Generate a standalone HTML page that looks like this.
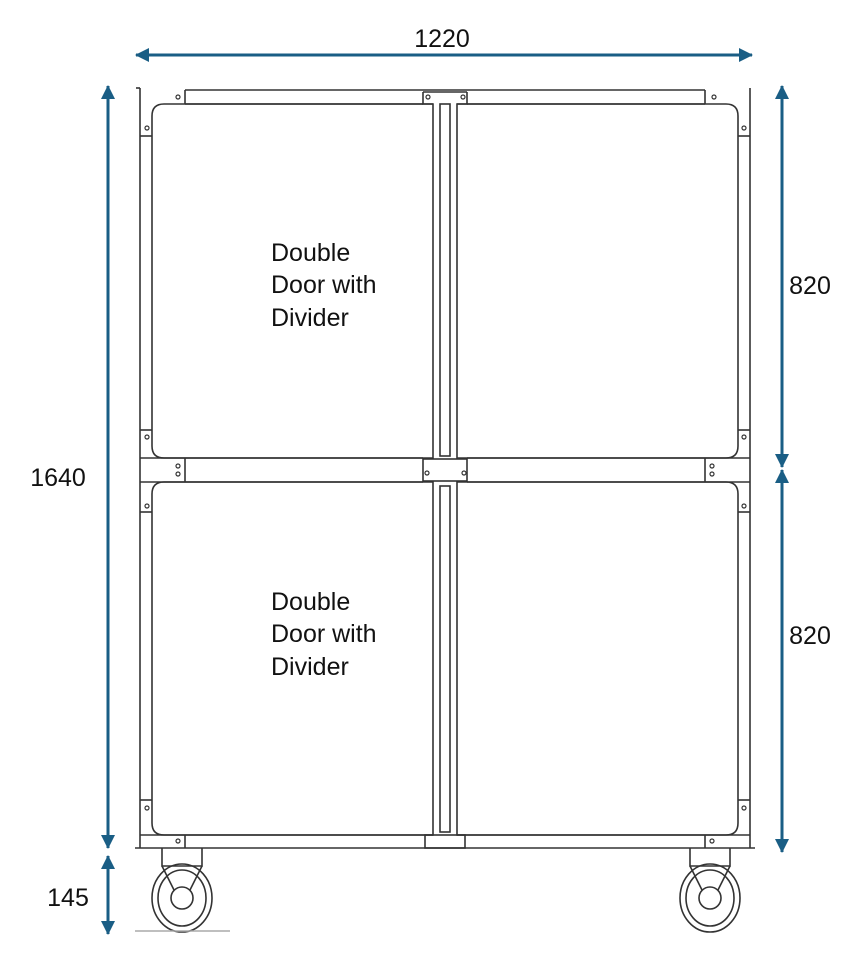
<!DOCTYPE html>
<html><head><meta charset="utf-8"><style>
html,body{margin:0;padding:0;background:#fff;}
svg{display:block;}
text{font-family:"Liberation Sans",sans-serif;fill:#111;}
</style></head><body>
<svg width="862" height="960" viewBox="0 0 862 960" xmlns="http://www.w3.org/2000/svg">
<defs>
<marker id="ah" markerWidth="14" markerHeight="14" refX="13" refY="7" orient="auto-start-reverse" markerUnits="userSpaceOnUse" viewBox="0 0 14 14">
<path d="M0,0 L14,7 L0,14 z" fill="#1a5e85"/>
</marker>
</defs>
<g fill="none" stroke="#333" stroke-width="1.6">
<line x1="140" y1="88" x2="140" y2="848"/>
<line x1="750" y1="88" x2="750" y2="848"/>
<line x1="136" y1="88" x2="140" y2="88"/>
<line x1="185" y1="90" x2="705" y2="90"/>
<line x1="185" y1="90" x2="185" y2="104"/>
<line x1="705" y1="90" x2="705" y2="104"/>
<line x1="185" y1="104" x2="423" y2="104"/>
<line x1="467" y1="104" x2="705" y2="104"/>
<line x1="140" y1="136" x2="152" y2="136"/>
<line x1="738" y1="136" x2="750" y2="136"/>
<line x1="140" y1="430" x2="152" y2="430"/>
<line x1="738" y1="430" x2="750" y2="430"/>
<line x1="140" y1="512" x2="152" y2="512"/>
<line x1="738" y1="512" x2="750" y2="512"/>
<line x1="140" y1="800" x2="152" y2="800"/>
<line x1="738" y1="800" x2="750" y2="800"/>
<path d="M152,116 Q152,104 164,104 L433,104 L433,458 L164,458 Q152,458 152,446 Z"/>
<path d="M457,104 L726,104 Q738,104 738,116 L738,446 Q738,458 726,458 L457,458 Z"/>
<path d="M152,494 Q152,482 164,482 L433,482 L433,835 L164,835 Q152,835 152,823 Z"/>
<path d="M457,482 L726,482 Q738,482 738,494 L738,823 Q738,835 726,835 L457,835 Z"/>
<line x1="140" y1="458" x2="423" y2="458"/>
<line x1="467" y1="458" x2="750" y2="458"/>
<line x1="140" y1="482" x2="423" y2="482"/>
<line x1="467" y1="482" x2="750" y2="482"/>
<line x1="185" y1="458" x2="185" y2="482"/>
<line x1="705" y1="458" x2="705" y2="482"/>
<rect x="423" y="459" width="44" height="22"/>
<rect x="440" y="104" width="10" height="352"/>
<rect x="440" y="486" width="10" height="346"/>
<path d="M423,92 L423,104 L433,104 M467,92 L467,104 L457,104"/>
<line x1="423" y1="92" x2="467" y2="92"/>
<rect x="425" y="835" width="40" height="13"/>
<line x1="135" y1="848" x2="755" y2="848"/>
<line x1="185" y1="835" x2="185" y2="848"/>
<line x1="705" y1="835" x2="705" y2="848"/>
<line x1="140" y1="835" x2="433" y2="835"/>
<line x1="457" y1="835" x2="750" y2="835"/>
<g>
<path d="M162,848 L162,866 L202,866 L202,848"/>
<path d="M162,866 L174,890 M202,866 L190,890"/>
<ellipse cx="182" cy="898" rx="30" ry="34"/>
<ellipse cx="182" cy="898" rx="24" ry="28"/>
<circle cx="182" cy="898" r="11"/>
</g>
<g transform="translate(528,0)">
<path d="M162,848 L162,866 L202,866 L202,848"/>
<path d="M162,866 L174,890 M202,866 L190,890"/>
<ellipse cx="182" cy="898" rx="30" ry="34"/>
<ellipse cx="182" cy="898" rx="24" ry="28"/>
<circle cx="182" cy="898" r="11"/>
</g>
<line x1="135" y1="931" x2="230" y2="931" stroke="#aaa"/>
</g>
<g fill="none" stroke="#333" stroke-width="1.2">
<circle cx="178" cy="97" r="2"/><circle cx="714" cy="97" r="2"/>
<circle cx="147" cy="128" r="2"/><circle cx="744" cy="128" r="2"/>
<circle cx="147" cy="437" r="2"/><circle cx="744" cy="437" r="2"/>
<circle cx="178" cy="466" r="2"/><circle cx="178" cy="474" r="2"/>
<circle cx="712" cy="466" r="2"/><circle cx="712" cy="474" r="2"/>
<circle cx="147" cy="506" r="2"/><circle cx="744" cy="506" r="2"/>
<circle cx="147" cy="808" r="2"/><circle cx="744" cy="808" r="2"/>
<circle cx="178" cy="841" r="2"/><circle cx="712" cy="841" r="2"/>
<circle cx="428" cy="97" r="2"/><circle cx="463" cy="97" r="2"/>
<circle cx="427" cy="473" r="2"/><circle cx="464" cy="473" r="2"/>
</g>
<g stroke="#1a5e85" stroke-width="3" fill="none">
<line x1="136" y1="55" x2="752" y2="55" marker-start="url(#ah)" marker-end="url(#ah)"/>
<line x1="108" y1="86" x2="108" y2="848" marker-start="url(#ah)" marker-end="url(#ah)"/>
<line x1="108" y1="856" x2="108" y2="934" marker-start="url(#ah)" marker-end="url(#ah)"/>
<line x1="782" y1="86" x2="782" y2="467" marker-start="url(#ah)" marker-end="url(#ah)"/>
<line x1="782" y1="470" x2="782" y2="852" marker-start="url(#ah)" marker-end="url(#ah)"/>
</g>
<g font-size="25">
<text x="442" y="47" text-anchor="middle">1220</text>
<text x="58" y="486" text-anchor="middle">1640</text>
<text x="68" y="906" text-anchor="middle">145</text>
<text x="810" y="294" text-anchor="middle">820</text>
<text x="810" y="644" text-anchor="middle">820</text>
<text x="271" y="261">Double</text>
<text x="271" y="293">Door with</text>
<text x="271" y="326">Divider</text>
<text x="271" y="610">Double</text>
<text x="271" y="642">Door with</text>
<text x="271" y="675">Divider</text>
</g>
</svg>
</body></html>
